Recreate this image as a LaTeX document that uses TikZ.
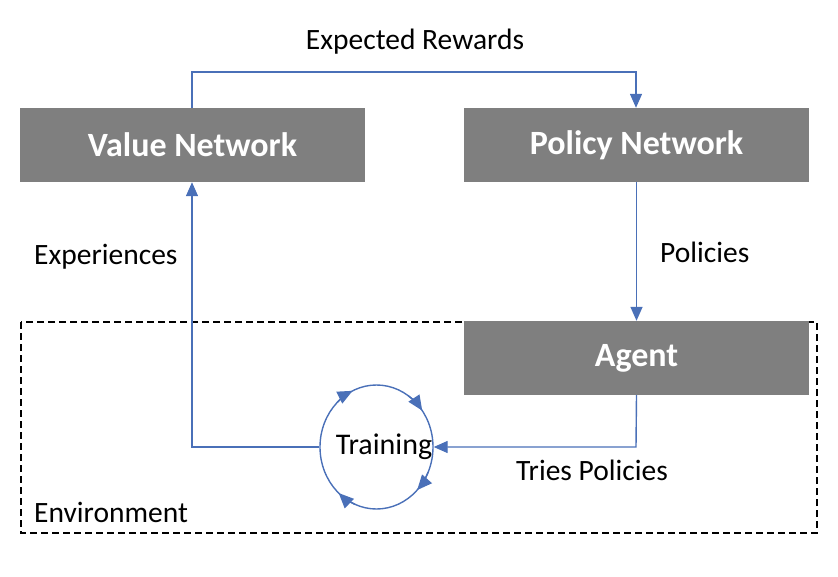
\documentclass[tikz,border=0pt]{standalone}
\usepackage{fontspec}
\setmainfont{Carlito}
\usetikzlibrary{arrows.meta,shapes.geometric}
\definecolor{lineblue}{HTML}{4A70B8}
\definecolor{boxgray}{HTML}{7F7F7F}
\begin{document}
\begin{tikzpicture}[x=1pt,y=-1pt,
  box/.style={fill=boxgray,draw=none,minimum width=345pt,minimum height=74pt,inner sep=0pt,text=white,font=\fontsize{34}{40}\selectfont\bfseries},
  lbl/.style={font=\fontsize{29.5}{34}\selectfont,inner sep=0pt},
  conn/.style={draw=lineblue,line width=1.4pt,-{Triangle[length=14pt,width=12pt]}},
  cyc/.style={draw=lineblue,line width=1.4pt,-{Triangle[length=15pt,width=13pt]}}]
\useasboundingbox (0,0) rectangle (838,576);
\draw[dashed,line width=1.3pt,dash pattern=on 7pt off 4pt] (21,322) rectangle (817,533);
\node[box] (value) at (192.5,145) {Value Network};
\node[box] (policy) at (636.5,145) {Policy Network};
\node[box] (agent) at (636.5,358) {Agent};
\node[ellipse,draw=lineblue,line width=1.4pt,minimum width=113pt,minimum height=124pt,inner sep=0pt] (train) at (376.5,447) {};
\node[lbl,font=\fontsize{30}{34}\selectfont] (trainlbl) at (384,447) {Training};
\coordinate (tl) at (192,72);
\coordinate (tr) at (636,72);
\coordinate (bl) at (192,447);
\coordinate (br) at (636,447);
\draw[conn] (value.north -| tl) -- (tl) -- (tr) -- (tr |- policy.north);
\draw[conn] (policy.south) -- (agent.north);
\draw[conn] (agent.south) -- (br) -- (train.east);
\draw[conn] (train.west) -- (bl) -- (bl |- value.south);
\draw[cyc] (train.center) ++(-134:56.5 and 62) arc[start angle=-134,end angle=-115,x radius=56.5,y radius=62];
\draw[cyc] (train.center) ++(-56:56.5 and 62) arc[start angle=-56,end angle=-36,x radius=56.5,y radius=62];
\draw[cyc] (train.center) ++(24:56.5 and 62) arc[start angle=24,end angle=44,x radius=56.5,y radius=62];
\draw[cyc] (train.center) ++(112:56.5 and 62) arc[start angle=112,end angle=132,x radius=56.5,y radius=62];
\node[lbl] (er) at (415,42) {Expected Rewards};
\node[lbl,anchor=west] (pol) at (660,252) {Policies};
\node[lbl,anchor=west] (exp) at (34,257) {Experiences};
\node[lbl,anchor=west] (tp) at (516,470) {Tries Policies};
\node[lbl,anchor=west] (env) at (34,512) {Environment};
\end{tikzpicture}
\end{document}
